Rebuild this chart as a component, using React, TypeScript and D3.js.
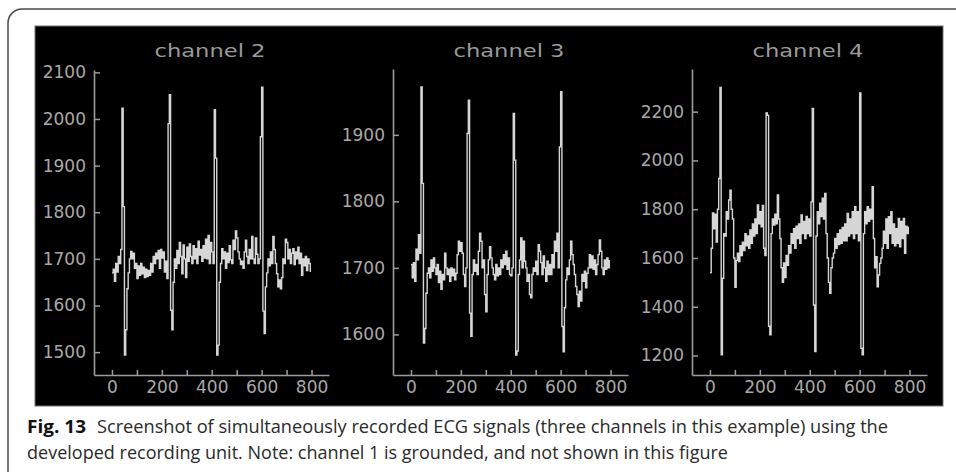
import React, { useEffect, useRef } from "react";
import * as d3 from "d3";

// one value every 5 samples, 0..795
const sampleStep = 5;

const channel2 = [
  1670, 1678, 1652, 1690, 1672, 1705, 1690, 1720, 2023, 1812,
  1494, 1548, 1636, 1670, 1700, 1716, 1700, 1712, 1680, 1690,
  1658, 1685, 1665, 1690, 1668, 1682, 1660, 1678, 1662, 1675,
  1665, 1690, 1672, 1705, 1690, 1712, 1700, 1718, 1680, 1720,
  1702, 1715, 1672, 1695, 1658, 1990, 2052, 1590, 1548, 1650,
  1700, 1680, 1718, 1690, 1735, 1705, 1668, 1730, 1700, 1660,
  1725, 1695, 1732, 1705, 1690, 1728, 1700, 1722, 1690, 1738,
  1708, 1720, 1695, 1728, 1702, 1742, 1700, 1750, 1690, 1735,
  1715, 1690, 2020, 1916, 1494, 1515, 1650, 1690, 1722, 1700,
  1715, 1680, 1712, 1692, 1728, 1698, 1690, 1740, 1720, 1760,
  1745, 1715, 1700, 1688, 1695, 1680, 1715, 1740, 1705, 1690,
  1720, 1700, 1748, 1700, 1690, 1745, 1710, 1690, 1700, 1962,
  2068, 1588, 1540, 1640, 1670, 1700, 1685, 1715, 1690, 1748,
  1720, 1690, 1668, 1640, 1655, 1636, 1660, 1700, 1690, 1742,
  1735, 1700, 1720, 1690, 1712, 1722, 1688, 1715, 1700, 1725,
  1690, 1712, 1665, 1700, 1685, 1705, 1675, 1700, 1690, 1672,
];

const channel3 = [
  1705, 1685, 1708, 1680, 1728, 1712, 1750, 1722, 1972, 1827,
  1587, 1609, 1662, 1692, 1700, 1685, 1712, 1695, 1715, 1700,
  1690, 1705, 1678, 1695, 1668, 1690, 1682, 1722, 1700, 1690,
  1698, 1680, 1700, 1688, 1698, 1682, 1692, 1720, 1740, 1725,
  1738, 1722, 1690, 1672, 1700, 1902, 1952, 1632, 1597, 1690,
  1712, 1695, 1705, 1690, 1725, 1752, 1740, 1700, 1712, 1660,
  1634, 1690, 1712, 1732, 1715, 1700, 1690, 1682, 1705, 1688,
  1700, 1690, 1712, 1700, 1720, 1705, 1725, 1698, 1715, 1690,
  1688, 1700, 1932, 1862, 1569, 1575, 1690, 1712, 1745, 1700,
  1740, 1710, 1700, 1680, 1690, 1660, 1655, 1690, 1700, 1695,
  1710, 1690, 1735, 1725, 1708, 1690, 1718, 1700, 1680, 1710,
  1690, 1705, 1690, 1720, 1700, 1740, 1725, 1752, 1700, 1882,
  1965, 1612, 1574, 1640, 1682, 1700, 1690, 1712, 1740, 1720,
  1705, 1690, 1672, 1660, 1642, 1665, 1650, 1690, 1680, 1695,
  1670, 1692, 1700, 1720, 1700, 1718, 1698, 1712, 1690, 1705,
  1720, 1742, 1725, 1700, 1690, 1712, 1698, 1715, 1700, 1712,
];

const channel4 = [
  1540, 1640, 1785, 1720, 1780, 1665, 1800, 1926, 2299, 1203,
  1517, 1700, 1690, 1790, 1760, 1838, 1878, 1800, 1760, 1600,
  1480, 1590, 1620, 1585, 1650, 1610, 1665, 1630, 1700, 1650,
  1690, 1640, 1715, 1660, 1740, 1690, 1760, 1700, 1817, 1740,
  1790, 1728, 1815, 1640, 1610, 2195, 2185, 1320, 1285, 1700,
  1760, 1735, 1780, 1740, 1858, 1760, 1680, 1560, 1500, 1580,
  1520, 1610, 1570, 1650, 1620, 1700, 1660, 1720, 1640, 1730,
  1680, 1740, 1660, 1776, 1700, 1750, 1680, 1770, 1700, 1760,
  1690, 1830, 2213, 1407, 1216, 1690, 1790, 1740, 1825, 1770,
  1845, 1760, 1865, 1700, 1600, 1500, 1455, 1560, 1600, 1620,
  1680, 1640, 1700, 1655, 1715, 1660, 1725, 1670, 1740, 1670,
  1783, 1690, 1760, 1700, 1790, 1680, 1810, 1700, 1790, 1670,
  2277, 1230, 1203, 1700, 1790, 1740, 1810, 1750, 1800, 1760,
  1892, 1680, 1560, 1605, 1482, 1530, 1578, 1600, 1640, 1710,
  1660, 1760, 1640, 1769, 1700, 1790, 1660, 1740, 1650, 1720,
  1660, 1762, 1646, 1750, 1680, 1762, 1619, 1730, 1700, 1728,
];

const xTicks = [0, 100, 200, 300, 400, 500, 600, 700, 800];
const xTickLabels = [0, 200, 400, 600, 800];
const ch2Ticks = [1500, 1600, 1700, 1800, 1900, 2000, 2100];
const ch3Ticks = [1600, 1700, 1800, 1900];
const ch4Ticks = [1200, 1400, 1600, 1800, 2000, 2200];

const panels = [
  { title: "channel 2", values: channel2, yTicks: ch2Ticks, yDomain: [1451, 2105], left: 94, top: 70 },
  { title: "channel 3", values: channel3, yTicks: ch3Ticks, yDomain: [1539, 1999], left: 393, top: 69 },
  { title: "channel 4", values: channel4, yTicks: ch4Ticks, yDomain: [1120, 2375], left: 692, top: 69 },
];

const W = 956;
const H = 472;
const bottom = 375;
const axisColor = "#9c9c9c";
const labelColor = "#a9a9a9";
const tickFont = "'DejaVu Sans', sans-serif";

const App = () => {
  const ref = useRef<SVGGElement>(null);

  useEffect(() => {
    const root = d3.select(ref.current);
    root.selectAll("*").remove();

    panels.forEach((p) => {
      const x = d3.scaleLinear().domain([-72, 870]).range([p.left, p.left + 235]);
      const y = d3.scaleLinear().domain(p.yDomain).range([bottom, p.top]);
      const g = root.append("g");

      const line = d3
        .line<number>()
        .x((d, i) => x(i * sampleStep))
        .y((d) => y(d))
        .curve(d3.curveStepAfter);

      g.append("path")
        .datum(p.values)
        .attr("d", line)
        .attr("fill", "none")
        .attr("stroke", "#d6d6d6")
        .attr("stroke-width", 1.4);

      const yAxis = g
        .append("g")
        .attr("transform", `translate(${p.left},0)`)
        .call(
          d3
            .axisLeft(y)
            .tickValues(p.yTicks)
            .tickSize(-6)
            .tickSizeOuter(0)
            .tickPadding(8)
            .tickFormat((d) => String(d))
        );

      const xAxis = g
        .append("g")
        .attr("transform", `translate(0,${bottom})`)
        .call(
          d3
            .axisBottom(x)
            .tickValues(xTicks)
            .tickSize(-5)
            .tickSizeOuter(0)
            .tickPadding(6)
            .tickFormat((d) => (xTickLabels.includes(+d) ? String(d) : ""))
        );

      [yAxis, xAxis].forEach((a) => {
        a.select(".domain").attr("stroke", axisColor).attr("stroke-width", 1.6);
        a.selectAll(".tick line").attr("stroke", axisColor).attr("stroke-width", 1.5);
        a.selectAll(".tick text")
          .attr("fill", labelColor)
          .attr("font-family", tickFont)
          .attr("font-size", 17);
      });

      g.append("text")
        .attr("x", p.left + 116)
        .attr("y", 57)
        .attr("text-anchor", "middle")
        .attr("fill", "#9a9a9a")
        .attr("font-family", tickFont)
        .attr("font-size", 18)
        .attr("textLength", 111)
        .attr("lengthAdjust", "spacingAndGlyphs")
        .text(p.title);
    });
  }, []);

  const capFont = "'Liberation Sans Narrow', 'Open Sans', sans-serif";

  return (
    <div style={{ position: "absolute", left: 0, top: 0 }}>
      <svg width={W} height={H} style={{ display: "block", background: "#fff" }}>
        <path d="M956,9 H22 A14,14 0 0 0 8,23 V472" fill="none" stroke="#4a4a4a" strokeWidth={1.5} />
        <rect x={35} y={26} width={908} height={380} fill="#000" stroke="#707070" strokeWidth={1} />
        <g ref={ref} />
        <text x={27} y={433} fontFamily={capFont} fontSize={18} fontWeight="bold" fill="#111"
          textLength={59} lengthAdjust="spacingAndGlyphs">Fig. 13</text>
        <text x={97} y={433} fontFamily={capFont} fontSize={18} fill="#2a2a2a"
          textLength={791} lengthAdjust="spacingAndGlyphs">
          Screenshot of simultaneously recorded ECG signals (three channels in this example) using the
        </text>
        <text x={27} y={459} fontFamily={capFont} fontSize={18} fill="#2a2a2a"
          textLength={701} lengthAdjust="spacingAndGlyphs">
          developed recording unit. Note: channel 1 is grounded, and not shown in this figure
        </text>
      </svg>
    </div>
  );
};

export default App;
